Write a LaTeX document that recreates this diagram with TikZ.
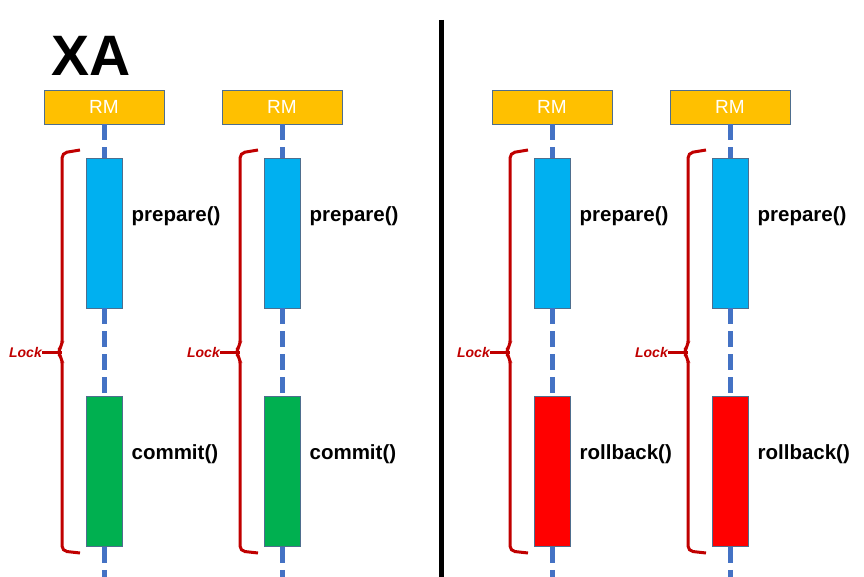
\documentclass[tikz,border=0pt]{standalone}
\usepackage{fontspec}
\setmainfont{Liberation Sans}
\usetikzlibrary{positioning}

\definecolor{rmgold}{HTML}{FFC000}
\definecolor{edgeblue}{HTML}{4E6E8E}
\definecolor{lifeblue}{HTML}{4472C4}
\definecolor{prepblue}{HTML}{00B0F0}
\definecolor{okgreen}{HTML}{00B050}
\definecolor{badred}{HTML}{FF0000}
\definecolor{lockred}{HTML}{C00000}

\begin{document}
\begin{tikzpicture}[
        x=1pt, y=-1pt,
        rm/.style={
          draw=edgeblue,
          fill=rmgold,
          line width=0.8pt,
          minimum width=120pt,
          minimum height=34pt,
          inner sep=0pt,
          text=white,
          font=\fontsize{19}{19}\selectfont
          },
        phase/.style={
          draw=edgeblue,
          line width=0.8pt,
          minimum width=36pt,
          minimum height=150pt,
          inner sep=0pt
          },
        call/.style={
          inner sep=0pt,
          font=\bfseries\fontsize{20.5}{20.5}\selectfont
          },
        life/.style={
          draw=lifeblue,
          line width=5pt,
          dash pattern=on 16pt off 7pt
          },
        lockline/.style={
          draw=lockred,
          line width=3pt,
          rounded corners=5pt
          },
        locktext/.style={
          text=lockred,
          anchor=east,
          inner sep=0pt,
          font=\bfseries\itshape\fontsize{14}{14}\selectfont
          }
        ]
        \useasboundingbox (0,0) rectangle (864,577);
        \node[font=\bfseries\fontsize{57}{57}\selectfont] (xa) at (91,56) {XA};
        \coordinate (divtop) at (441,20);
        \coordinate (divbot) at (441,577);
        \draw[line width=5pt] (divtop) -- (divbot);
        \foreach \cx/\fcol/\ftext [count=\i] in {104/okgreen/commit(), 282/okgreen/commit(), 552/badred/rollback(), 730/badred/rollback()}
        {
          \node[rm] (rm\i) at (\cx,107) {RM};
          \node[phase, fill=prepblue] (prep\i) at (\cx,233) {};
          \node[phase, fill=\fcol] (fin\i) at (\cx,471.5) {};
          \coordinate (end\i) at (\cx,577);
          \node[call, right=9pt of prep\i.east, yshift=17pt] (prepl\i) {prepare()};
          \node[call, right=9pt of fin\i.east, yshift=17pt] (finl\i) {\ftext};
          \draw[life] (rm\i.south) -- (prep\i.north);
          \draw[life] (prep\i.south) -- (fin\i.north);
          \draw[life] (fin\i.south) -- (end\i);
          % lock bracket
          \node[locktext] (lock\i) at ({\cx-62},352) {Lock};
          \coordinate (mid\i) at ({\cx-42},352);
          \draw[lockline] ({\cx-24},150) -- ({\cx-42},153) -- ({\cx-42},346)
            -- ({\cx-47},352) -- ({\cx-42},358) -- ({\cx-42},551) -- ({\cx-24},553);
          \draw[draw=lockred, line width=3pt] (lock\i.east) -- (mid\i);
        }
    \end{tikzpicture}
\end{document}
